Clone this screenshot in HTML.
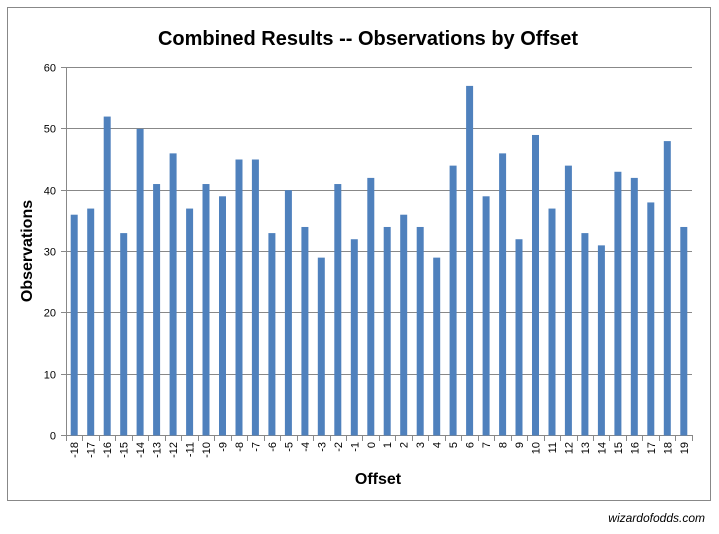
<!DOCTYPE html>
<html><head><style>body{margin:0;background:#fff}svg{display:block}</style></head><body>
<svg width="719" height="534" xmlns="http://www.w3.org/2000/svg" font-family="Liberation Sans, sans-serif">
<rect x="7.5" y="7.5" width="703" height="493" fill="#fff" stroke="#888"/>
<text x="368" y="45" font-size="20" font-weight="bold" text-anchor="middle" fill="#000">Combined Results -- Observations by Offset</text>
<g stroke="#888" stroke-width="1" fill="none">
<path d="M61 435.5H692M61 374.5H692M61 312.5H692M61 251.5H692M61 190.5H692M61 128.5H692M61 67.5H692M66.5 67V436"/>
<path d="M66.5 435v6M82.5 435v6M99.5 435v6M115.5 435v6M132.5 435v6M148.5 435v6M165.5 435v6M181.5 435v6M198.5 435v6M214.5 435v6M231.5 435v6M247.5 435v6M264.5 435v6M280.5 435v6M297.5 435v6M313.5 435v6M330.5 435v6M346.5 435v6M362.5 435v6M379.5 435v6M395.5 435v6M412.5 435v6M428.5 435v6M445.5 435v6M461.5 435v6M478.5 435v6M494.5 435v6M511.5 435v6M527.5 435v6M544.5 435v6M560.5 435v6M577.5 435v6M593.5 435v6M609.5 435v6M626.5 435v6M642.5 435v6M659.5 435v6M675.5 435v6M692.5 435v6"/>
</g>
<g fill="#4f81bd" transform="translate(0,435.5) scale(1,-6.1333)">
<rect x="70.7" y="0" width="7" height="36"/><rect x="87.2" y="0" width="7" height="37"/><rect x="103.7" y="0" width="7" height="52"/><rect x="120.2" y="0" width="7" height="33"/><rect x="136.6" y="0" width="7" height="50"/><rect x="153.1" y="0" width="7" height="41"/><rect x="169.6" y="0" width="7" height="46"/><rect x="186.1" y="0" width="7" height="37"/><rect x="202.5" y="0" width="7" height="41"/><rect x="219" y="0" width="7" height="39"/><rect x="235.5" y="0" width="7" height="45"/><rect x="251.9" y="0" width="7" height="45"/><rect x="268.4" y="0" width="7" height="33"/><rect x="284.9" y="0" width="7" height="40"/><rect x="301.4" y="0" width="7" height="34"/><rect x="317.8" y="0" width="7" height="29"/><rect x="334.3" y="0" width="7" height="41"/><rect x="350.8" y="0" width="7" height="32"/><rect x="367.3" y="0" width="7" height="42"/><rect x="383.7" y="0" width="7" height="34"/><rect x="400.2" y="0" width="7" height="36"/><rect x="416.7" y="0" width="7" height="34"/><rect x="433.2" y="0" width="7" height="29"/><rect x="449.6" y="0" width="7" height="44"/><rect x="466.1" y="0" width="7" height="57"/><rect x="482.6" y="0" width="7" height="39"/><rect x="499.1" y="0" width="7" height="46"/><rect x="515.5" y="0" width="7" height="32"/><rect x="532" y="0" width="7" height="49"/><rect x="548.5" y="0" width="7" height="37"/><rect x="564.9" y="0" width="7" height="44"/><rect x="581.4" y="0" width="7" height="33"/><rect x="597.9" y="0" width="7" height="31"/><rect x="614.4" y="0" width="7" height="43"/><rect x="630.8" y="0" width="7" height="42"/><rect x="647.3" y="0" width="7" height="38"/><rect x="663.8" y="0" width="7" height="48"/><rect x="680.3" y="0" width="7" height="34"/>
</g>
<g font-size="11" fill="#000" text-anchor="end">
<text x="56" y="439.5">0</text><text x="56" y="378.5">10</text><text x="56" y="316.5">20</text><text x="56" y="255.5">30</text><text x="56" y="194.5">40</text><text x="56" y="132.5">50</text><text x="56" y="71.5">60</text>
</g>
<g font-size="11" fill="#000" text-anchor="end">
<text transform="translate(78.2,442) rotate(-90)">-18</text><text transform="translate(94.7,442) rotate(-90)">-17</text><text transform="translate(111.2,442) rotate(-90)">-16</text><text transform="translate(127.7,442) rotate(-90)">-15</text><text transform="translate(144.1,442) rotate(-90)">-14</text><text transform="translate(160.6,442) rotate(-90)">-13</text><text transform="translate(177.1,442) rotate(-90)">-12</text><text transform="translate(193.6,442) rotate(-90)">-11</text><text transform="translate(210,442) rotate(-90)">-10</text><text transform="translate(226.5,442) rotate(-90)">-9</text><text transform="translate(243,442) rotate(-90)">-8</text><text transform="translate(259.4,442) rotate(-90)">-7</text><text transform="translate(275.9,442) rotate(-90)">-6</text><text transform="translate(292.4,442) rotate(-90)">-5</text><text transform="translate(308.9,442) rotate(-90)">-4</text><text transform="translate(325.3,442) rotate(-90)">-3</text><text transform="translate(341.8,442) rotate(-90)">-2</text><text transform="translate(358.3,442) rotate(-90)">-1</text><text transform="translate(374.8,442) rotate(-90)">0</text><text transform="translate(391.2,442) rotate(-90)">1</text><text transform="translate(407.7,442) rotate(-90)">2</text><text transform="translate(424.2,442) rotate(-90)">3</text><text transform="translate(440.7,442) rotate(-90)">4</text><text transform="translate(457.1,442) rotate(-90)">5</text><text transform="translate(473.6,442) rotate(-90)">6</text><text transform="translate(490.1,442) rotate(-90)">7</text><text transform="translate(506.6,442) rotate(-90)">8</text><text transform="translate(523,442) rotate(-90)">9</text><text transform="translate(539.5,442) rotate(-90)">10</text><text transform="translate(556,442) rotate(-90)">11</text><text transform="translate(572.4,442) rotate(-90)">12</text><text transform="translate(588.9,442) rotate(-90)">13</text><text transform="translate(605.4,442) rotate(-90)">14</text><text transform="translate(621.9,442) rotate(-90)">15</text><text transform="translate(638.3,442) rotate(-90)">16</text><text transform="translate(654.8,442) rotate(-90)">17</text><text transform="translate(671.3,442) rotate(-90)">18</text><text transform="translate(687.8,442) rotate(-90)">19</text>
</g>
<text x="378" y="484" font-size="16" font-weight="bold" text-anchor="middle">Offset</text>
<text transform="translate(32,251) rotate(-90)" font-size="16" font-weight="bold" text-anchor="middle">Observations</text>
<text x="705" y="522" font-size="12" font-style="italic" text-anchor="end">wizardofodds.com</text>
</svg>
</body></html>
